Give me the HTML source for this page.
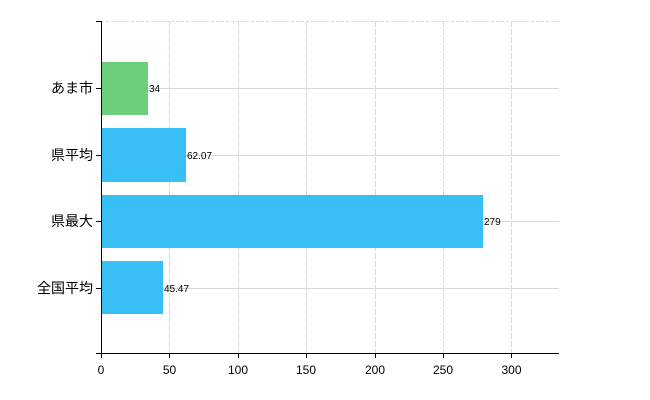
<!DOCTYPE html>
<html><head><meta charset="utf-8"><style>body{margin:0;background:#fff}svg{display:block}</style></head><body>
<svg width="650" height="400" xmlns="http://www.w3.org/2000/svg" font-family="Liberation Sans, Noto Sans CJK JP, sans-serif">
<g stroke="#d8d8d8" stroke-width="1">
<line x1="101" y1="21.5" x2="559" y2="21.5" stroke-dasharray="3,2"/>
<g stroke-dasharray="6,2">
<line x1="169.5" y1="21" x2="169.5" y2="354"/>
<line x1="238.5" y1="21" x2="238.5" y2="354"/>
<line x1="306.5" y1="21" x2="306.5" y2="354"/>
<line x1="375.5" y1="21" x2="375.5" y2="354"/>
<line x1="443.5" y1="21" x2="443.5" y2="354"/>
<line x1="511.5" y1="21" x2="511.5" y2="354"/>
</g>
<line x1="101" y1="88.5" x2="559" y2="88.5"/>
<line x1="101" y1="155.5" x2="559" y2="155.5"/>
<line x1="101" y1="221.5" x2="559" y2="221.5"/>
<line x1="101" y1="288.5" x2="559" y2="288.5"/>
</g>
<rect x="101" y="62" width="47" height="53" fill="#6ccf7c"/>
<rect x="101" y="128" width="85" height="54" fill="#38bff5"/>
<rect x="101" y="195" width="382" height="53" fill="#38bff5"/>
<rect x="101" y="261" width="62" height="53" fill="#38bff5"/>
<g stroke="#000" stroke-width="1">
<line x1="101.5" y1="21" x2="101.5" y2="354"/>
<line x1="96" y1="353.5" x2="559" y2="353.5"/>
<line x1="96" y1="21.5" x2="101" y2="21.5"/>
<line x1="96" y1="88.5" x2="101" y2="88.5"/>
<line x1="96" y1="155.5" x2="101" y2="155.5"/>
<line x1="96" y1="221.5" x2="101" y2="221.5"/>
<line x1="96" y1="288.5" x2="101" y2="288.5"/>
<g>
<line x1="101.5" y1="354" x2="101.5" y2="358"/>
<line x1="169.5" y1="354" x2="169.5" y2="358"/>
<line x1="238.5" y1="354" x2="238.5" y2="358"/>
<line x1="306.5" y1="354" x2="306.5" y2="358"/>
<line x1="375.5" y1="354" x2="375.5" y2="358"/>
<line x1="443.5" y1="354" x2="443.5" y2="358"/>
<line x1="511.5" y1="354" x2="511.5" y2="358"/>
</g>
</g>
<g font-size="10" fill="#000">
<text x="149" y="92">34</text>
<text x="187" y="159">62.07</text>
<text x="484" y="225">279</text>
<text x="164" y="292">45.47</text>
</g>
<g font-size="14" fill="#000" text-anchor="end">
<text x="93" y="93">あま市</text>
<text x="93" y="160">県平均</text>
<text x="93" y="226">県最大</text>
<text x="93" y="293">全国平均</text>
</g>
<g font-size="12" fill="#000" text-anchor="middle">
<text x="101" y="374">0</text>
<text x="169.5" y="374">50</text>
<text x="238" y="374">100</text>
<text x="306" y="374">150</text>
<text x="375" y="374">200</text>
<text x="443" y="374">250</text>
<text x="511.5" y="374">300</text>
</g>
</svg>
</body></html>
